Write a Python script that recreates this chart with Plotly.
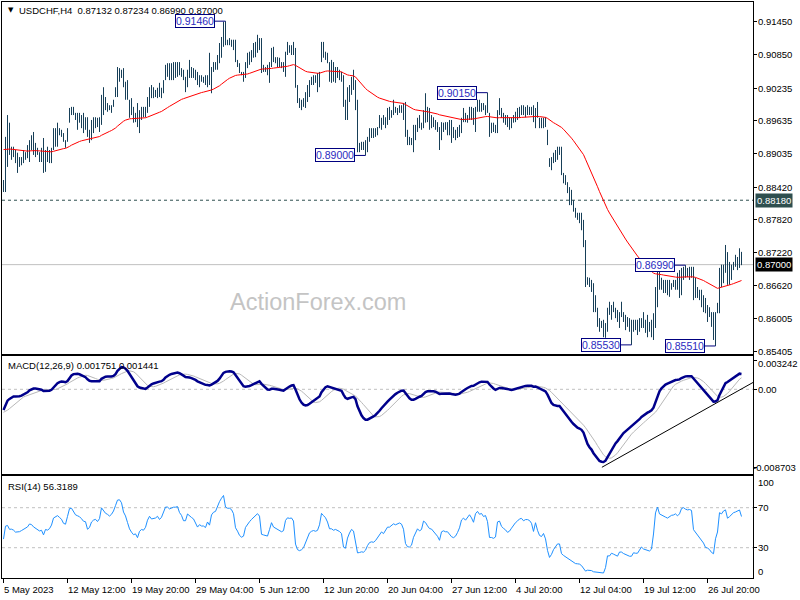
import numpy as np
import plotly.graph_objects as go

# ---------------- data (USDCHF H4, prices in pips: 8855 -> 0.8855) ----------------
high_pips = [
8855,8934,8974,8960,8916,8916,8910,8905,8897,8897,
8910,8906,8919,8928,8937,8943,8923,8914,8906,8914,
8932,8910,8916,8910,8914,8950,8950,8960,8950,8947,
8941,8928,8950,8987,8989,8989,8978,8978,8978,8974,
8978,8970,8970,8947,8965,8970,8970,8969,8970,9011,
9025,9007,8996,8992,8992,9002,9025,9062,9060,9057,
9060,9035,9038,9002,9005,8989,8978,8996,8983,8989,
8989,8989,9007,9025,9029,9025,9020,9024,9033,9024,
9038,9066,9069,9069,9069,9071,9071,9071,9071,9060,
9057,9044,9057,9075,9062,9060,9057,9053,9047,9047,
9044,9047,9047,9088,9062,9071,9071,9084,9106,9117,
9145,9146,9112,9115,9112,9112,9112,9075,9069,9053,
9053,9071,9088,9090,9093,9106,9108,9121,9115,9115,
9066,9062,9066,9071,9097,9099,9080,9080,9079,9071,
9071,9090,9108,9102,9102,9108,9097,9029,9005,9002,
9005,9016,9029,9038,9044,9047,9047,9051,9053,9108,
9108,9090,9088,9071,9075,9071,9062,9062,9057,9053,
9047,9002,9025,9029,9044,9057,9038,9002,8923,8925,
8925,8928,8934,8950,8950,8950,8950,8952,8974,8969,
8974,8970,8987,8989,8983,9002,8989,8987,8992,8992,
8996,8998,8947,8934,8932,8956,8956,8969,8974,8960,
8983,9014,8989,8987,8974,8970,8965,8961,8952,8961,
8960,8961,8961,8965,8965,8952,8947,8952,8956,8969,
8987,8978,8974,8989,8989,8987,8989,9002,9002,8996,
8996,8992,9015,8978,8960,8960,8956,8983,9005,8987,
8978,8974,8974,8969,8969,8974,8980,8987,8989,8992,
8992,8989,8992,8989,8989,8992,8987,8998,8969,8969,
8969,8970,8947,8895,8897,8905,8910,8916,8916,8916,
8868,8864,8851,8842,8837,8818,8804,8795,8795,8795,
8782,8745,8677,8676,8672,8666,8644,8621,8602,8597,
8599,8593,8621,8632,8626,8632,8621,8617,8613,8632,
8613,8608,8604,8602,8599,8599,8599,8599,8602,8602,
8613,8599,8608,8595,8599,8611,8659,8694,8697,8676,
8672,8672,8672,8672,8666,8672,8672,8685,8690,8694,
8696,8699,8694,8696,8696,8696,8676,8659,8654,8654,
8644,8639,8626,8622,8613,8613,8613,8630,8694,8700,
8700,8736,8723,8705,8700,8705,8718,8714,8730,8723.4,
]
low_pips = [
8833,8833,8879,8901,8892,8897,8886,8868,8879,8882,
8886,8892,8895,8888,8910,8901,8897,8901,8888,8888,
8868,8870,8888,8886,8886,8910,8916,8916,8937,8934,
8925,8914,8925,8960,8974,8974,8965,8947,8960,8950,
8941,8947,8934,8923,8928,8941,8950,8952,8943,8956,
8974,8983,8980,8983,8978,8989,9007,9007,9035,9042,
9025,9002,9002,8969,8974,8960,8961,8952,8941,8965,
8970,8970,8978,8989,9005,9005,9007,9005,9007,9005,
9014,9038,9044,9038,9038,9038,9042,9044,9047,9044,
9038,9016,9025,9042,9042,9042,9038,9029,9025,9035,
9033,9029,9025,9029,9014,9053,9057,9057,9069,9079,
9099,9102,9102,9102,9099,9093,9071,9062,9051,9047,
9035,9042,9060,9066,9071,9079,9080,9088,9093,9051,
9053,9053,9047,9033,9062,9071,9069,9062,9062,9060,
9053,9044,9084,9088,9084,9084,9024,8996,8987,8983,
8989,8987,8998,9007,9029,9029,9033,9016,9025,9071,
9079,9075,9069,9035,9033,9035,9033,9042,9038,9035,
8989,8965,8965,8998,9011,9020,8983,8906,8906,8910,
8910,8900,8906,8925,8932,8932,8934,8937,8950,8947,
8956,8950,8956,8965,8969,8974,8978,8974,8978,8978,
8965,8934,8919,8919,8919,8906,8928,8943,8950,8947,
8950,8960,8961,8947,8950,8952,8947,8943,8910,8928,
8943,8947,8937,8937,8923,8932,8928,8932,8934,8941,
8961,8961,8960,8965,8965,8956,8943,8980,8980,8980,
8983,8974,8978,8934,8941,8943,8941,8941,8974,8969,
8960,8956,8952,8947,8950,8960,8961,8965,8969,8974,
8974,8970,8974,8974,8974,8961,8950,8969,8950,8950,
8950,8952,8919,8879,8873,8886,8888,8892,8901,8864,
8849,8846,8831,8809,8809,8797,8786,8782,8776,8763,
8732,8659,8663,8659,8650,8613,8613,8586,8577,8584,
8567,8566,8577,8608,8599,8613,8602,8595,8584,8604,
8595,8580,8586,8577,8553,8577,8580,8571,8577,8584,
8584,8575,8567,8577,8567,8562,8584,8622,8654,8654,
8648,8648,8644,8641,8654,8659,8654,8654,8639,8644,
8672,8676,8677,8672,8676,8635,8639,8639,8635,8622,
8613,8611,8595,8604,8586,8562,8551,8611,8611,8659,
8666,8685,8663,8663,8672,8690,8696,8690,8694,8699.0,
]
close_pips = [
8850,8925,8930,8905,8906,8900,8888,8888,8890,8895,
8900,8904,8910,8922,8920,8912,8907,8902,8898,8900,
8885,8900,8898,8902,8912,8935,8940,8944,8940,8936,
8927,8925,8948,8980,8982,8976,8968,8966,8964,8960,
8955,8954,8938,8942,8955,8960,8962,8958,8965,9000,
8995,8990,8988,8985,8990,9000,9020,9048,9050,9045,
9028,9020,9005,8988,8978,8970,8972,8960,8975,8980,
8978,8985,9005,9018,9012,9014,9015,9020,9014,9020,
9035,9055,9055,9052,9055,9058,9058,9060,9052,9048,
9040,9040,9055,9052,9050,9048,9042,9036,9040,9038,
9038,9036,9044,9040,9058,9064,9066,9080,9095,9110,
9125,9108,9106,9106,9104,9098,9072,9064,9053,9048,
9050,9068,9076,9082,9088,9094,9100,9104,9100,9060,
9058,9057,9055,9068,9085,9075,9072,9070,9066,9064,
9066,9088,9095,9094,9095,9090,9028,9000,8994,8996,
9000,9010,9022,9034,9038,9040,9038,9040,9053,9090,
9085,9080,9070,9052,9052,9048,9050,9048,9045,9040,
8995,8990,9012,9025,9035,9030,8990,8915,8916,8918,
8915,8920,8932,8940,8942,8940,8944,8950,8958,8965,
8960,8968,8976,8976,8980,8984,8982,8984,8986,8984,
8975,8938,8926,8925,8928,8942,8952,8960,8955,8958,
8978,8975,8968,8962,8961,8956,8952,8945,8935,8950,
8952,8950,8950,8945,8940,8938,8940,8945,8952,8966,
8970,8967,8972,8978,8974,8968,8986,8992,8988,8990,
8986,8988,8980,8950,8950,8948,8950,8978,8980,8970,
8966,8963,8958,8960,8965,8970,8975,8978,8982,8983,
8980,8982,8982,8981,8978,8968,8980,8969,8960,8958,
8962,8952,8920,8885,8890,8898,8904,8908,8908,8866,
8855,8846,8836,8822,8810,8800,8790,8788,8785,8770,
8740,8668,8670,8665,8660,8625,8615,8592,8590,8586,
8580,8590,8615,8614,8620,8614,8608,8600,8608,8608,
8600,8594,8592,8585,8585,8590,8588,8588,8592,8596,
8590,8588,8586,8584,8586,8605,8655,8680,8665,8662,
8660,8658,8656,8660,8664,8665,8668,8665,8670,8685,
8688,8686,8685,8686,8685,8656,8650,8645,8640,8630,
8625,8612,8610,8605,8595,8590,8612,8625,8685,8682,
8695,8700,8680,8686,8695,8702,8705,8710,8713,8700.0,
]
last_open = 0.87132

# indicator seeds (state just before the first visible bar)
ema55_seed = 0.8913
ema12_seed = 0.8883
ema26_seed = 0.8905
macd_signal_seed = -0.0026
rsi_prev_close_seed = 0.8880
rsi_gain_seed = 0.0009
rsi_loss_seed = 0.0012

# readouts printed in the indicator windows
macd_readout = ["0.001751", "0.001441"]
rsi_readout = "56.3189"

# labelled swing points (bar index, 'H' high / 'L' low)
swing_idx = [111, 181, 242, 314, 341, 356]
swing_kind = ["H", "L", "H", "L", "H", "L"]

# horizontal levels
support_level = 0.8818

# MACD trend line (bar index, MACD value)
trend_x = [299.2, 374.9]
trend_y = [-0.00870, 0.00078]

# axis ticks
price_ticks = [0.91450, 0.90850, 0.90235, 0.89635, 0.89035, 0.88420,
               0.87820, 0.87220, 0.86620, 0.86005, 0.85405]
macd_ticks = [0.003242, 0.0, -0.008703]
macd_tick_text = ["0.003242", "0.00", "-0.008703"]
rsi_ticks = [100, 70, 30, 0]
rsi_levels = [70, 30]
time_tick_idx = [0, 32, 64, 96, 128, 160, 192, 224, 256, 288, 320, 352]
time_tick_text = ["5 May 2023", "12 May 12:00", "19 May 20:00", "29 May 04:00",
                  "5 Jun 12:00", "12 Jun 20:00", "20 Jun 04:00", "27 Jun 12:00",
                  "4 Jul 20:00", "12 Jul 04:00", "19 Jul 12:00", "26 Jul 20:00"]

assert len(high_pips) == len(low_pips) == len(close_pips), (len(high_pips), len(low_pips), len(close_pips))

# ---------------- derived series ----------------
highs = np.array(high_pips) / 10000.0
lows = np.array(low_pips) / 10000.0
closes = np.array(close_pips) / 10000.0
n = len(closes)
idx = np.arange(n)


def ema(vals, period, seed):
    a = 2.0 / (period + 1)
    out, e = [], seed
    for v in vals:
        e = e + a * (v - e)
        out.append(e)
    return np.array(out)


ema55 = ema(closes, 55, ema55_seed)
macd = ema(closes, 12, ema12_seed) - ema(closes, 26, ema26_seed)
padded = np.concatenate([np.full(8, macd_signal_seed), macd])
signal = np.array([padded[i:i + 9].mean() for i in range(n)])

rsi = []
ag, al, prev = rsi_gain_seed, rsi_loss_seed, rsi_prev_close_seed
for c in closes:
    d = c - prev
    ag = (ag * 13 + max(d, 0)) / 14
    al = (al * 13 + max(-d, 0)) / 14
    rsi.append(100 - 100 / (1 + ag / al) if al > 0 else 100)
    prev = c
rsi = np.array(rsi)

# high-low bar segments
bar_x, bar_y = [], []
for i in range(n):
    bar_x += [int(idx[i]), int(idx[i]), None]
    bar_y += [float(lows[i]), float(highs[i]), None]

# ---------------- figure ----------------
W, H = 800, 600
BAR = "#173F58"
FONT = "Liberation Sans"
FS = 9.5
XL, XR = 2 / W, 753 / W
LBLX = 756 / W


def py(px):
    return 1 - px / H


xr = [-0.75, 374.75]
main_rng = [0.85363, 0.91811]
macd_rng = [-0.009451, 0.003716]
rsi_rng = [-0.3, 101.7]

fig = go.Figure()
fig.add_trace(go.Scatter(x=bar_x, y=bar_y, mode="lines", line=dict(color=BAR, width=1),
                         xaxis="x", yaxis="y", hoverinfo="skip", connectgaps=False))
fig.add_trace(go.Scatter(x=idx, y=ema55, mode="lines", line=dict(color="#FF0000", width=1),
                         xaxis="x", yaxis="y"))
fig.add_trace(go.Scatter(x=idx, y=signal, mode="lines", line=dict(color="#B8B8B8", width=1),
                         xaxis="x2", yaxis="y2"))
fig.add_trace(go.Scatter(x=idx, y=macd, mode="lines", line=dict(color="#00008B", width=2.5),
                         xaxis="x2", yaxis="y2"))
fig.add_trace(go.Scatter(x=trend_x, y=trend_y, mode="lines", line=dict(color="black", width=1),
                         xaxis="x2", yaxis="y2"))
fig.add_trace(go.Scatter(x=idx, y=rsi, mode="lines", line=dict(color="#1E90FF", width=1),
                         xaxis="x3", yaxis="y3"))

ax_common = dict(range=xr, domain=[XL, XR], showgrid=False, zeroline=False, automargin=False,
                 showline=True, mirror=True, linecolor="black", linewidth=1)
ay_common = dict(showgrid=False, zeroline=False, showline=True, mirror=True, automargin=False,
                 linecolor="black", linewidth=1, side="right", ticks="outside",
                 ticklen=3, tickcolor="black", showticklabels=False)

fig.update_layout(
    width=W, height=H, margin=dict(l=0, r=0, t=0, b=0, autoexpand=False),
    paper_bgcolor="white", plot_bgcolor="white", showlegend=False,
    font=dict(family=FONT, size=FS, color="black"),
    xaxis=dict(ax_common, anchor="y", showticklabels=False, ticks=""),
    xaxis2=dict(ax_common, anchor="y2", showticklabels=False, ticks=""),
    xaxis3=dict(ax_common, anchor="y3", showticklabels=False, ticks="outside",
                ticklen=4, tickcolor="black", tickvals=time_tick_idx),
    yaxis=dict(ay_common, anchor="x", domain=[py(354), py(2)], range=main_rng,
               tickvals=price_ticks),
    yaxis2=dict(ay_common, anchor="x2", domain=[py(474), py(356)], range=macd_rng,
                tickvals=macd_ticks),
    yaxis3=dict(ay_common, anchor="x3", domain=[py(578), py(476)], range=rsi_rng,
                tickvals=rsi_levels),
)

shapes = [
    dict(type="line", xref="paper", x0=XL, x1=XR, yref="y", y0=support_level, y1=support_level,
         line=dict(color="#2F4F4F", width=1, dash="3px,3px"), layer="below"),
    dict(type="line", xref="paper", x0=XL, x1=XR, yref="y", y0=closes[-1], y1=closes[-1],
         line=dict(color="#C0C0C0", width=1), layer="below"),
    dict(type="line", xref="paper", x0=XL, x1=XR, yref="y2", y0=0, y1=0,
         line=dict(color="#C0C0C0", width=1, dash="3px,3px"), layer="below"),
]
for lv in rsi_levels:
    shapes.append(dict(type="line", xref="paper", x0=XL, x1=XR, yref="y3", y0=lv, y1=lv,
                       line=dict(color="#C0C0C0", width=1, dash="3px,3px"), layer="below"))
fig.update_layout(shapes=shapes)

txt = dict(family=FONT, size=FS, color="black")
ann = []
# header
ann.append(dict(xref="paper", yref="paper", x=6 / W, y=py(10.5), xanchor="left", yanchor="middle",
                text="▼", showarrow=False, font=dict(family="DejaVu Sans", size=7, color="black")))
ann.append(dict(xref="paper", yref="paper", x=17 / W, y=py(10), xanchor="left", yanchor="middle",
                text=f"USDCHF,H4  {last_open:.5f} {highs[-1]:.5f} {lows[-1]:.5f} {closes[-1]:.5f}",
                showarrow=False, font=txt))
ann.append(dict(xref="paper", yref="paper", x=6 / W, y=py(365.5), xanchor="left", yanchor="middle",
                text=f"MACD(12,26,9) {macd_readout[0]} {macd_readout[1]}",
                showarrow=False, font=txt))
ann.append(dict(xref="paper", yref="paper", x=6 / W, y=py(486), xanchor="left", yanchor="middle",
                text=f"RSI(14) {rsi_readout}", showarrow=False, font=txt))
# watermark
ann.append(dict(xref="paper", yref="paper", x=318 / W, y=py(302), xanchor="center", yanchor="middle",
                text="ActionForex.com", showarrow=False,
                font=dict(family=FONT, size=23.5, color="#C4C4C4")))
# right-hand price scale labels
for v in price_ticks:
    ann.append(dict(xref="paper", yref="y", x=LBLX, y=v, xanchor="left", yanchor="middle",
                    text=f"{v:.5f}", showarrow=False, font=txt))
# highlighted price labels
ann.append(dict(xref="paper", yref="y", x=755 / W, y=support_level, xanchor="left", yanchor="middle",
                text=f"{support_level:.5f}", showarrow=False, bgcolor="#2F4F4F", borderpad=1,
                font=dict(family=FONT, size=FS, color="white")))
ann.append(dict(xref="paper", yref="y", x=755 / W, y=closes[-1], xanchor="left", yanchor="middle",
                text=f"{closes[-1]:.5f}", showarrow=False, bgcolor="black", borderpad=1,
                font=dict(family=FONT, size=FS, color="white")))
# MACD scale labels
macd_shift = [-3, 0, 0]
for v, t, s in zip(macd_ticks, macd_tick_text, macd_shift):
    ann.append(dict(xref="paper", yref="y2", x=(LBLX if not t.startswith("-") else 751 / W), y=v,
                    yshift=s, xanchor="left", yanchor="middle", text=t, showarrow=False, font=txt))
# RSI scale labels
rsi_shift = [-5, 0, 0, 6]
for v, s in zip(rsi_ticks, rsi_shift):
    ann.append(dict(xref="paper", yref="y3", x=LBLX, y=v, yshift=s, xanchor="left",
                    yanchor="middle", text=str(v), showarrow=False, font=txt))
# swing labels
for i, k in zip(swing_idx, swing_kind):
    v = highs[i] if k == "H" else lows[i]
    ann.append(dict(xref="x", yref="y", x=i, y=v, text=f"{v:.5f}", showarrow=True,
                    arrowhead=0, arrowwidth=1, arrowcolor="#000080", ax=-31, ay=0, standoff=0,
                    bgcolor="white", bordercolor="#000080", borderwidth=1, borderpad=0,
                    font=dict(family=FONT, size=10.5, color="#2A2AC0")))
# time labels
for i, t in zip(time_tick_idx, time_tick_text):
    ann.append(dict(xref="x3", yref="paper", x=i, y=py(589.5), xanchor="left", yanchor="middle",
                    xshift=-2, text=t, showarrow=False, font=txt))
fig.update_layout(annotations=ann)

fig.write_html("out.html", config={"displayModeBar": False},
               post_script="document.body.style.margin='0px';document.body.style.overflow='hidden';")
